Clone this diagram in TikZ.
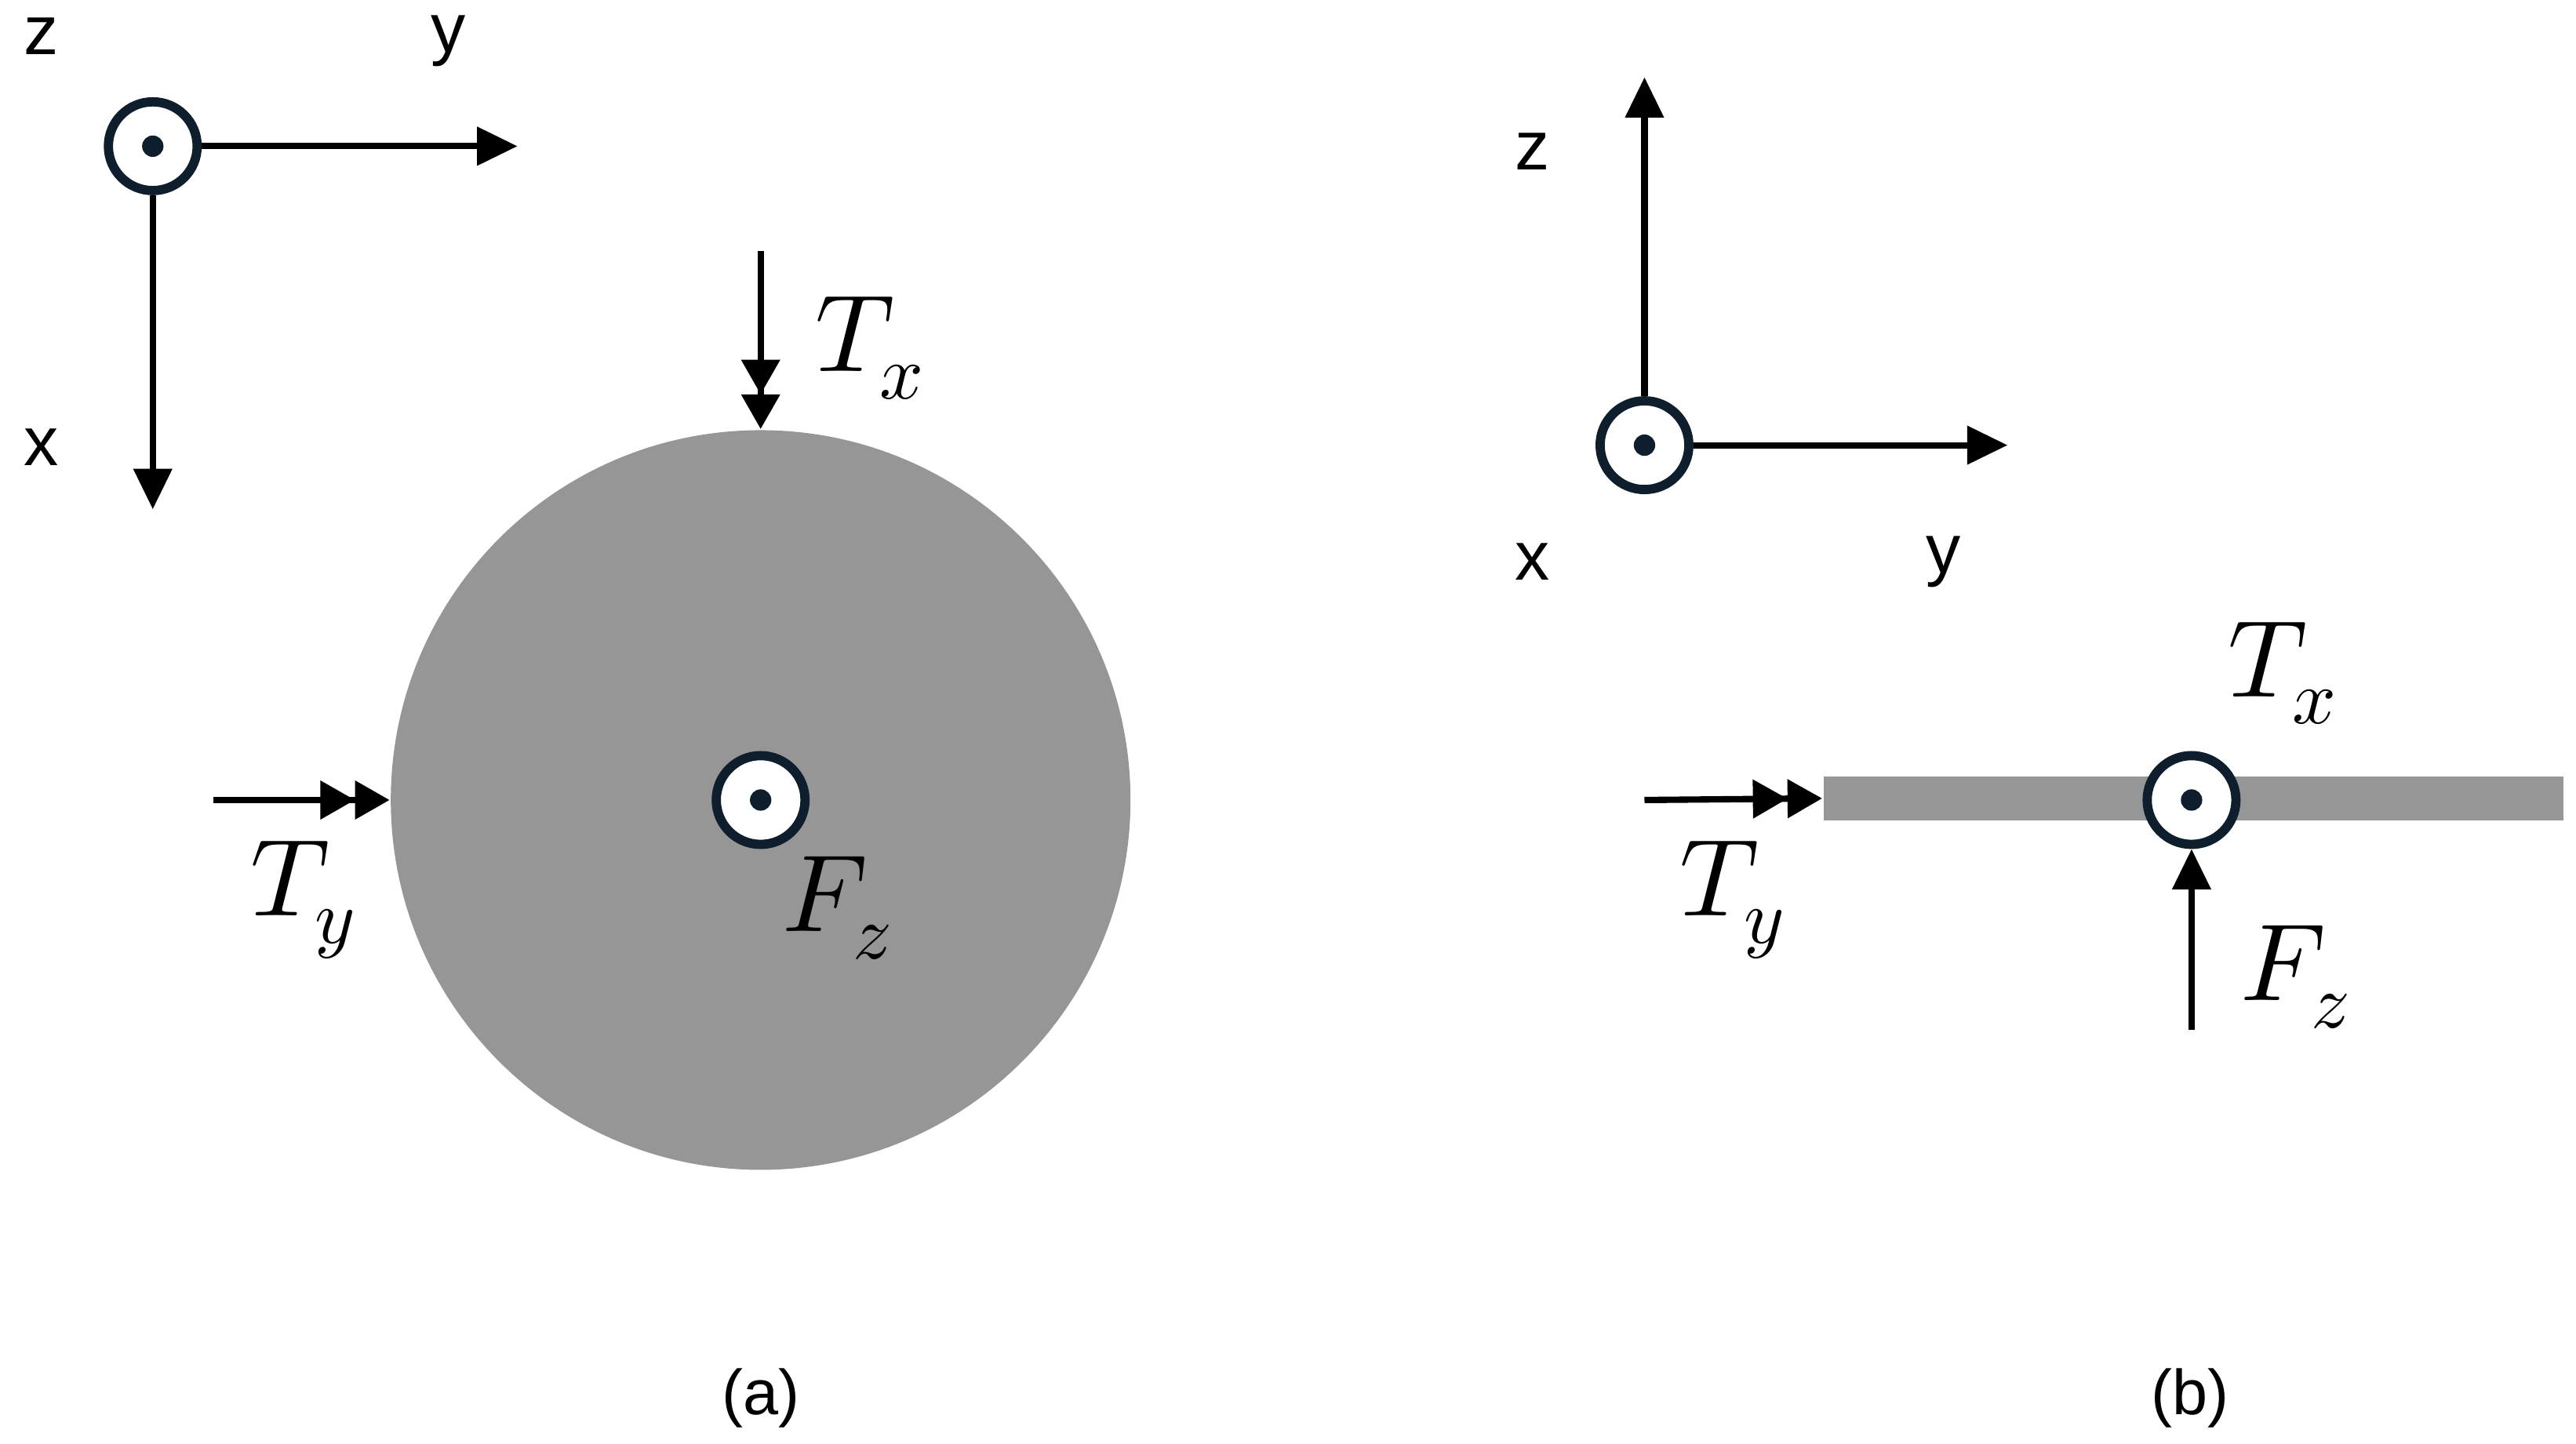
\documentclass[tikz,border=0pt]{standalone}
\usepackage{fontspec}
\setmainfont{Liberation Sans}
\usepackage{unicode-math}
\setmathfont{Latin Modern Math}
\usetikzlibrary{arrows.meta}
\definecolor{navy}{HTML}{0E1E2C}
\definecolor{plate}{HTML}{969696}
\tikzset{
  x=0.01cm,y=-0.01cm,
  ax/.style={line width=1.1pt,-{Triangle[length=7pt,width=6.5pt]}},
  dbl/.style={line width=1.1pt,-{Triangle[length=6pt,width=6.5pt]Triangle[length=6pt,width=6.5pt]}},
  sgl/.style={line width=1.1pt,-{Triangle[length=7pt,width=6.5pt]}},
  sym/.style={circle,draw=navy,line width=1.6pt,fill=white,minimum size=0.54cm,inner sep=0pt},
  dot/.style={circle,fill=navy,minimum size=0.13cm,inner sep=0pt},
  axl/.style={font=\fontsize{12}{14}\selectfont},
  capl/.style={font=\fontsize{11}{13}\selectfont},
  ml/.style={font=\fontsize{19}{22}\selectfont},
}
\begin{document}
\begin{tikzpicture}
\useasboundingbox (0,0) rectangle (1568,879);
% left axes
\node[sym] (c1) at (93,89) {}; \node[dot] at (c1) {};
\coordinate (y1) at (315,89); \coordinate (x1) at (93,310);
\draw[ax] (c1.east) -- (y1);
\draw[ax] (c1.south) -- (x1);
\node[axl] (lz1) at (25,22) {z};
\node[axl] (ly1) at (273,25) {y};
\node[axl] (lx1) at (25,272) {x};
% disk
\node[circle,fill=plate,minimum size=4.5cm,inner sep=0pt] (disk) at (463,487) {};
\coordinate (tx0) at (463,153);
\draw[dbl] (tx0) -- (disk.north);
\node[ml] (ltx) at (530,212) {$T_x$};
\coordinate (ty0) at (130,487);
\draw[dbl] (ty0) -- (disk.west);
\node[ml] (lty) at (185,548) {$T_y$};
\node[sym] (c2) at (463,487) {}; \node[dot] at (c2) {};
\node[ml] (lfz) at (510,553) {$F_z$};
\node[capl] (la) at (463,851) {(a)};
% right axes
\node[sym] (c3) at (1001,271) {}; \node[dot] at (c3) {};
\coordinate (z3) at (1001,47); \coordinate (y3) at (1222,271);
\draw[ax] (c3.north) -- (z3);
\draw[ax] (c3.east) -- (y3);
\node[axl] (lz3) at (933,92) {z};
\node[axl] (lx3) at (933,342) {x};
\node[axl] (ly3) at (1183,342) {y};
% bar
\node[fill=plate,minimum width=4.5cm,minimum height=0.27cm,inner sep=0pt] (bar) at (1335,486) {};
\coordinate (ty3) at (1001,487);
\draw[dbl] (ty3) -- (bar.west);
\node[ml] (lty3) at (1055,548) {$T_y$};
\node[sym] (c4) at (1334,487) {}; \node[dot] at (c4) {};
\node[ml] (ltx3) at (1390,410) {$T_x$};
\coordinate (fz0) at (1334,627);
\draw[sgl] (fz0) -- (c4.south);
\node[ml] (lfz3) at (1398,595) {$F_z$};
\node[capl] (lb) at (1333,851) {(b)};
\end{tikzpicture}
\end{document}
